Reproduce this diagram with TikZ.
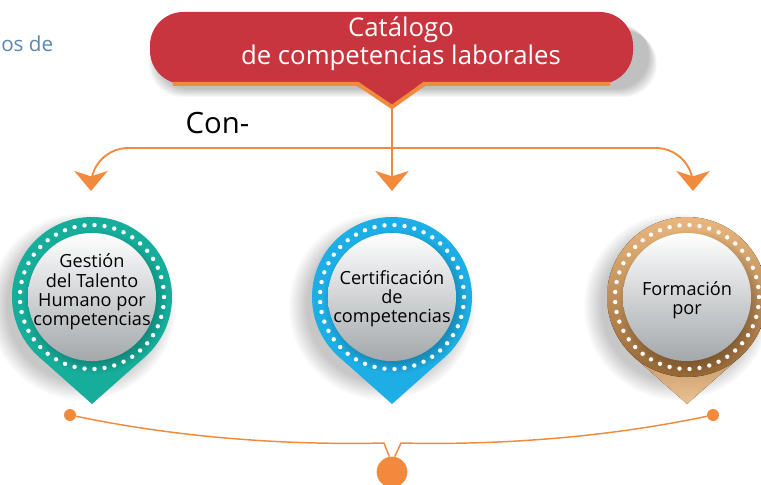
\documentclass[tikz,border=0pt]{standalone}
\usepackage{fontspec}
\setmainfont{Open Sans}
\usetikzlibrary{arrows.meta,calc,fadings}

\definecolor{rojo}{HTML}{C9353F}
\definecolor{naranja}{HTML}{F28A3D}
\definecolor{verde}{HTML}{16AD9B}
\definecolor{azul}{HTML}{1DAEE5}
\definecolor{cafe}{HTML}{E9B77E}
\definecolor{cafeosc}{HTML}{946634}
\definecolor{grisazul}{HTML}{5A86B2}
\definecolor{gris}{HTML}{A3A8AB}

\tikzset{
  conn/.style={naranja, line width=1.4pt, -{Stealth[length=15pt,width=25pt,inset=4pt]}},
  linea/.style={naranja, line width=1.1pt},
  dot/.style={circle, fill=naranja, inner sep=0pt, minimum size=9pt},
  pintext/.style={align=center, text=black, font=\fontsize{13.6}{14.4}\selectfont},
  ringverde/.style={fill=verde},
  ringazul/.style={fill=azul},
  ringcafe/.style={top color=cafe, bottom color=cafeosc},
  puntacafe/.style={top color=cafeosc, bottom color=cafe!85!white},
}

\begin{document}
\begin{tikzpicture}[x=0.75pt, y=-0.75pt]
  \useasboundingbox (0,0) rectangle (761,485);

  % soft shadow under the title box
  \foreach \k in {1,...,9}
  \fill[black, opacity=0.03, rounded corners=25] (158-\k,22+\k) rectangle (648+\k,88+\k);

  % title box
  \fill[rojo, rounded corners=25] (150,12) rectangle (633,84);
  \fill[rojo] (352,83) -- (392,106) -- (430,83) -- cycle;
  \draw[naranja, line width=3pt] (173,84) -- (358,84) -- (392,107) -- (424,84) -- (610,84);
  \node[text=white, align=center, font=\fontsize{19.3}{21}\selectfont] (cat) at (401,44) {Catálogo\\de competencias laborales};
  \coordinate (cattip) at (392,107);

  \node[text=grisazul, anchor=base west, inner xsep=0pt, font=\fontsize{15.5}{16}\selectfont] (osde) at (1,52) {os de};
  \node[anchor=base west, font=\fontsize{22}{22}\selectfont] (con) at (181,133) {Con-};

  % connectors
  \coordinate (hub) at (392,148);
  \coordinate (arrL) at (91,191);
  \coordinate (arrM) at (392,191);
  \coordinate (arrR) at (693,191);
  \draw[conn] (cattip) -- (arrM);
  \draw[conn, rounded corners=28] (hub) -| (arrL);
  \draw[conn, rounded corners=28] (hub) -| (arrR);

  % pins
  \foreach \cx/\rs/\ts in {92/ringverde/ringverde, 392/ringazul/ringazul, 687/ringcafe/puntacafe} {
    \fill[black, opacity=0.22, path fading=circle with fuzzy edge 20 percent] (\cx-10,306) circle (94);
    \fill[\ts] (\cx+53.1,356.8) -- (\cx,404) -- (\cx-53.1,356.8) -- (\cx,297) -- cycle;
    \fill[\rs] (\cx,297) circle (80);
    \fill[black, opacity=0.22, path fading=circle with fuzzy edge 20 percent] (\cx+3,302) circle (72);
    \shade[top color=white, middle color=white!96!gris, bottom color=gris] (\cx,297) circle (64);
    \foreach \a in {0,8,...,352}
    \fill[white] (\cx,297) ++(\a:72) circle (2.2);
  }

  \node[pintext] (gestion) at (92,292) {Gestión\\del Talento\\Humano por\\competencias};
  \node[pintext] (certif) at (392,299) {Certificación\\de\\competencias};
  \node[pintext] (formacion) at (687,300) {Formación\\por};

  % bottom bracket
  \node[dot] (puntoL) at (70,415) {};
  \node[dot] (puntoR) at (713,415) {};
  \node[circle, fill=naranja, inner sep=0pt, minimum size=23pt] (centro) at (392,472) {};
  \draw[linea] (puntoL) .. controls (190,440) and (300,445) .. (384,443) -- (centro.100);
  \draw[linea] (puntoR) .. controls (594,440) and (484,445) .. (401,443) -- (centro.80);
\end{tikzpicture}
\end{document}
